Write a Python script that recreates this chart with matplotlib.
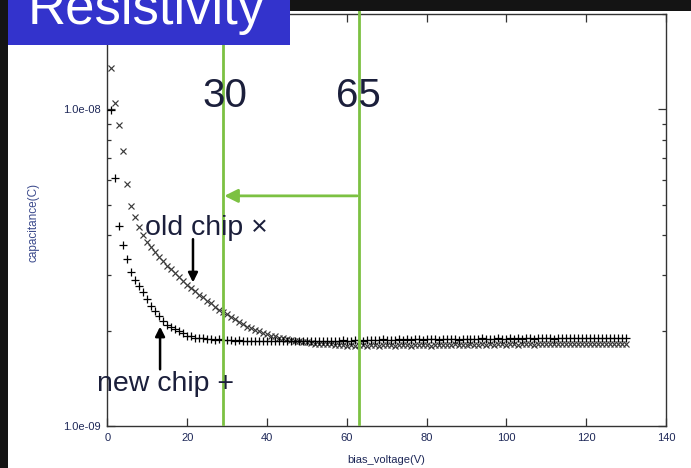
import matplotlib
matplotlib.use('Agg')
import matplotlib.pyplot as plt
from matplotlib.patches import Rectangle
from matplotlib.ticker import LogLocator, NullFormatter
import numpy as np

plt.rcParams['font.family'] = ['Liberation Sans', 'DejaVu Sans']

# ---------------- data ----------------
voltage = list(range(1, 131))

# capacitance in nF, old chip (x markers)
old_nF = [
    13.5, 10.45, 8.9, 7.36, 5.82, 4.96, 4.57, 4.25, 4.01, 3.81,
    3.67, 3.54, 3.41, 3.32, 3.20, 3.13, 3.04, 2.95, 2.87, 2.78,
    2.72, 2.66, 2.60, 2.55, 2.49, 2.44, 2.38, 2.33, 2.29, 2.25,
    2.21, 2.17, 2.13, 2.10, 2.06, 2.04, 2.01, 1.99, 1.97, 1.95,
    1.93, 1.92, 1.90, 1.89, 1.88, 1.87, 1.86, 1.85, 1.84, 1.84,
    1.83, 1.82, 1.82, 1.81, 1.81, 1.81, 1.80, 1.80, 1.80, 1.795,
    1.80, 1.79, 1.80, 1.80, 1.79, 1.80, 1.80, 1.79, 1.80, 1.80,
    1.80, 1.79, 1.80, 1.80, 1.80, 1.79, 1.80, 1.80, 1.80, 1.80,
    1.79, 1.80, 1.80, 1.80, 1.80, 1.80, 1.81, 1.80, 1.80, 1.80,
    1.81, 1.80, 1.80, 1.81, 1.80, 1.81, 1.80, 1.81, 1.81, 1.80,
    1.81, 1.81, 1.80, 1.81, 1.81, 1.81, 1.80, 1.81, 1.81, 1.81,
    1.81, 1.81, 1.82, 1.81, 1.81, 1.82, 1.81, 1.81, 1.82, 1.81,
    1.82, 1.82, 1.81, 1.82, 1.82, 1.82, 1.81, 1.82, 1.82, 1.82,
]

# capacitance in nF, new chip (+ markers)
new_nF = [
    9.93, 6.08, 4.28, 3.73, 3.37, 3.06, 2.89, 2.76, 2.64, 2.51,
    2.39, 2.30, 2.22, 2.14, 2.08, 2.05, 2.02, 1.99, 1.96, 1.93,
    1.92, 1.90, 1.89, 1.89, 1.88, 1.88, 1.87, 1.88, 1.87, 1.87,
    1.87, 1.86, 1.87, 1.86, 1.86, 1.86, 1.86, 1.86, 1.85, 1.86,
    1.86, 1.85, 1.86, 1.85, 1.86, 1.85, 1.85, 1.86, 1.85, 1.85,
    1.86, 1.85, 1.86, 1.86, 1.85, 1.86, 1.86, 1.86, 1.87, 1.86,
    1.86, 1.87, 1.87, 1.86, 1.87, 1.87, 1.87, 1.87, 1.88, 1.87,
    1.87, 1.87, 1.88, 1.87, 1.88, 1.87, 1.88, 1.88, 1.87, 1.88,
    1.88, 1.88, 1.87, 1.88, 1.88, 1.88, 1.88, 1.87, 1.88, 1.88,
    1.88, 1.88, 1.88, 1.89, 1.88, 1.88, 1.88, 1.89, 1.88, 1.88,
    1.89, 1.88, 1.89, 1.88, 1.89, 1.89, 1.88, 1.89, 1.89, 1.89,
    1.89, 1.88, 1.89, 1.89, 1.89, 1.89, 1.89, 1.90, 1.89, 1.89,
    1.89, 1.90, 1.89, 1.89, 1.90, 1.89, 1.90, 1.89, 1.90, 1.90,
]

xticks = [0, 20, 40, 60, 80, 100, 120, 140]
yticks = [1e-9, 1e-8]
ytick_labels = ['1.0e-09', '1.0e-08']
guide_voltages = [29, 63]
guide_labels = ['30', '65']
title = 'Resistivity'

# ---------------- figure ----------------
W, H = 691, 468
fig = plt.figure(figsize=(W / 100, H / 100), dpi=100, facecolor='white')


def px(x, y):
    return x / W, 1 - y / H


ax_left, ax_right, ax_top, ax_bottom = 107.4, 666, 14, 426
ax = fig.add_axes([ax_left / W, 1 - ax_bottom / H,
                   (ax_right - ax_left) / W, (ax_bottom - ax_top) / H])
ax.set_yscale('log')
ax.set_xlim(0, 140)
ax.set_ylim(1e-9, 2e-8)

ax.plot(voltage, np.array(old_nF) * 1e-9, ls='none', marker='x', ms=4.3,
        mew=0.85, color='#3a3a3a', zorder=3)
ax.plot(voltage, np.array(new_nF) * 1e-9, ls='none', marker='+', ms=5.2,
        mew=0.9, color='black', zorder=3)

tick_color = '#1e2858'
ax.set_xticks(xticks)
ax.set_xticklabels([str(t) for t in xticks])
ax.set_yticks(yticks)
ax.set_yticklabels(ytick_labels)
ax.yaxis.set_minor_locator(LogLocator(base=10, subs=range(2, 10)))
ax.yaxis.set_minor_formatter(NullFormatter())
ax.tick_params(which='both', direction='in', top=True, right=True,
               labelsize=8, labelcolor=tick_color, color='#333333', width=0.9)
ax.tick_params(which='major', length=5.5, pad=5)
ax.tick_params(which='minor', length=3)
for s in ax.spines.values():
    s.set_color('#333333')
    s.set_linewidth(1.0)

# green guide lines
green = '#7cc142'
for v in guide_voltages:
    ax.axvline(v, ymin=0.005, ymax=1.01, clip_on=False, color=green, lw=2,
               zorder=5)

# green arrow from 65 line to 30 line
ax.annotate('', xy=(guide_voltages[0] + 0.3, 5.33e-9),
            xytext=(guide_voltages[1] - 0.4, 5.33e-9),
            arrowprops=dict(arrowstyle='-|>', color=green, lw=2,
                            mutation_scale=20, shrinkA=0, shrinkB=0),
            zorder=5)

# black arrows
ax.annotate('', xy=(21.45, 2.84e-9), xytext=(21.45, 3.89e-9),
            arrowprops=dict(arrowstyle='-|>', color='black', lw=1.8,
                            mutation_scale=14, shrinkA=0, shrinkB=0),
            zorder=6)
ax.annotate('', xy=(13.2, 2.06e-9), xytext=(13.2, 1.51e-9),
            arrowprops=dict(arrowstyle='-|>', color='black', lw=1.8,
                            mutation_scale=14, shrinkA=0, shrinkB=0),
            zorder=6)

text_color = '#1b1f3b'
# big labels 30 / 65
for xp, lab in zip([224.5, 358.5], guide_labels):
    fig.text(*px(xp, 107), lab, fontsize=29, ha='center', va='baseline',
             color=text_color, zorder=1)

fig.text(*px(145, 235), 'old chip ×', fontsize=20.5, ha='left',
         va='baseline', color=text_color)
fig.text(*px(97, 391), 'new chip +', fontsize=20.5, ha='left',
         va='baseline', color=text_color)

# axis labels
fig.text(*px(33, 222), 'capacitance(C)', rotation=90, fontsize=8.5,
         ha='center', va='center', color='#3b4a8c')
fig.text(*px(386, 460), 'bias_voltage(V)', fontsize=8, ha='center',
         va='center', color=tick_color)

# slide decorations
fig.add_artist(Rectangle((0, 0), 8 / W, 1, transform=fig.transFigure,
                         facecolor='#141414', edgecolor='none', zorder=10))
fig.add_artist(Rectangle((0, 1 - 11 / H), 1, 11 / H, transform=fig.transFigure,
                         facecolor='#141414', edgecolor='none', zorder=10))
fig.add_artist(Rectangle((8 / W, 1 - 45 / H), 282 / W, 45 / H,
                         transform=fig.transFigure, facecolor='#3333cc',
                         edgecolor='none', zorder=11))
fig.text(*px(28, 24), title, fontsize=38, color='white', ha='left',
         va='baseline', zorder=12)

fig.savefig('out.png', dpi=100, facecolor='white')
